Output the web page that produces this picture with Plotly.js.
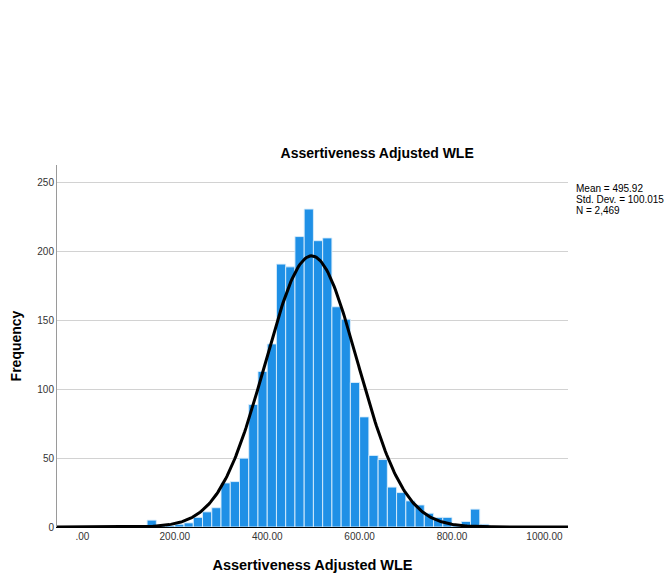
<!DOCTYPE html>
<html>
<head>
<meta charset="utf-8">
<script src="https://cdn.plot.ly/plotly-3.0.1.min.js"></script>
<style>html,body{margin:0;padding:0;background:#fff;}#chart{width:664px;height:573px;}</style>
</head>
<body>
<div id="chart"></div>
<script>
// Histogram bins (left edge) and frequencies, bin width 20
const binStarts = [140,160,180,200,220,240,260,280,300,320,340,360,380,400,420,440,460,480,500,520,540,560,580,600,620,640,660,680,700,720,740,760,780,800,820,840,860];
const frequencies = [5,1,1,2,3,7,11,14,32,33,50,89,113,133,191,189,211,231,208,210,160,151,105,80,52,49,29,25,19,16,10,7,7,1,4,13,2];
const binWidth = 20;
// Summary statistics shown on the chart
const meanValue = 495.92;
const stdDev = 100.015;
const nCount = 2469;
const statLines = ['Mean = 495.92', 'Std. Dev. = 100.015', 'N = 2,469'];
// Tick labels
const xTickVals = [0,200,400,600,800,1000];
const xTickText = ['.00','200.00','400.00','600.00','800.00','1000.00'];
const yTickVals = [0,50,100,150,200,250];

const binCenters = binStarts.map(b => b + binWidth/2);

// Fitted normal curve from the reported statistics
const xMin = -55, xMax = 1051;
const curveX = [], curveY = [];
for (let i = 0; i <= 400; i++) {
  const x = xMin + (xMax - xMin) * i / 400;
  const z = (x - meanValue) / stdDev;
  curveX.push(x);
  curveY.push(nCount * binWidth * Math.exp(-0.5*z*z) / (stdDev*Math.sqrt(2*Math.PI)));
}

const font = 'Liberation Sans, Arial, sans-serif';
const data = [
  {type:'bar', x: binCenters, y: frequencies, width: binWidth,
   marker:{color:'#1f90e6', line:{color:'rgba(220,238,252,0.9)', width:1}},
   hoverinfo:'x+y'},
  {type:'scatter', mode:'lines', x: curveX, y: curveY,
   line:{color:'#000000', width:3}, hoverinfo:'skip'}
];
const annotations = statLines.map((t, i) => ({
  text: t, xref:'paper', yref:'paper', x: 1.012, y: (527 - (188 + 11*i)) / 362,
  xanchor:'left', yanchor:'middle', showarrow:false, align:'left',
  font:{family:font, size:10, color:'#000'}
}));
const layout = {
  width:664, height:573,
  margin:{l:57, r:96, t:165, b:46},
  paper_bgcolor:'#ffffff', plot_bgcolor:'#ffffff',
  showlegend:false,
  bargap:0,
  title:{text:'<b>Assertiveness Adjusted WLE</b>', x:0.568, xanchor:'center', y:1-153/573, yanchor:'middle',
         font:{family:font, size:14, color:'#000'}},
  xaxis:{range:[xMin, xMax], tickvals:xTickVals, ticktext:xTickText, showgrid:false, zeroline:false,
         showline:true, linecolor:'#000', linewidth:1, ticks:'', tickfont:{family:font, size:10, color:'#333'},
         title:{text:'<b>Assertiveness Adjusted WLE</b>', font:{family:font, size:14.5, color:'#000'}, standoff:18}},
  yaxis:{range:[0, 263], tickvals:yTickVals, showgrid:true, gridcolor:'#d2d2d2', gridwidth:1, zeroline:false,
         showline:true, linecolor:'#9a9a9a', linewidth:1, ticks:'', tickfont:{family:font, size:10, color:'#333'},
         title:{text:'<b>Frequency</b>', font:{family:font, size:14, color:'#000'}, standoff:12}},
  annotations: annotations
};
Plotly.newPlot('chart', data, layout, {displayModeBar:false, staticPlot:true});
</script>
</body>
</html>
